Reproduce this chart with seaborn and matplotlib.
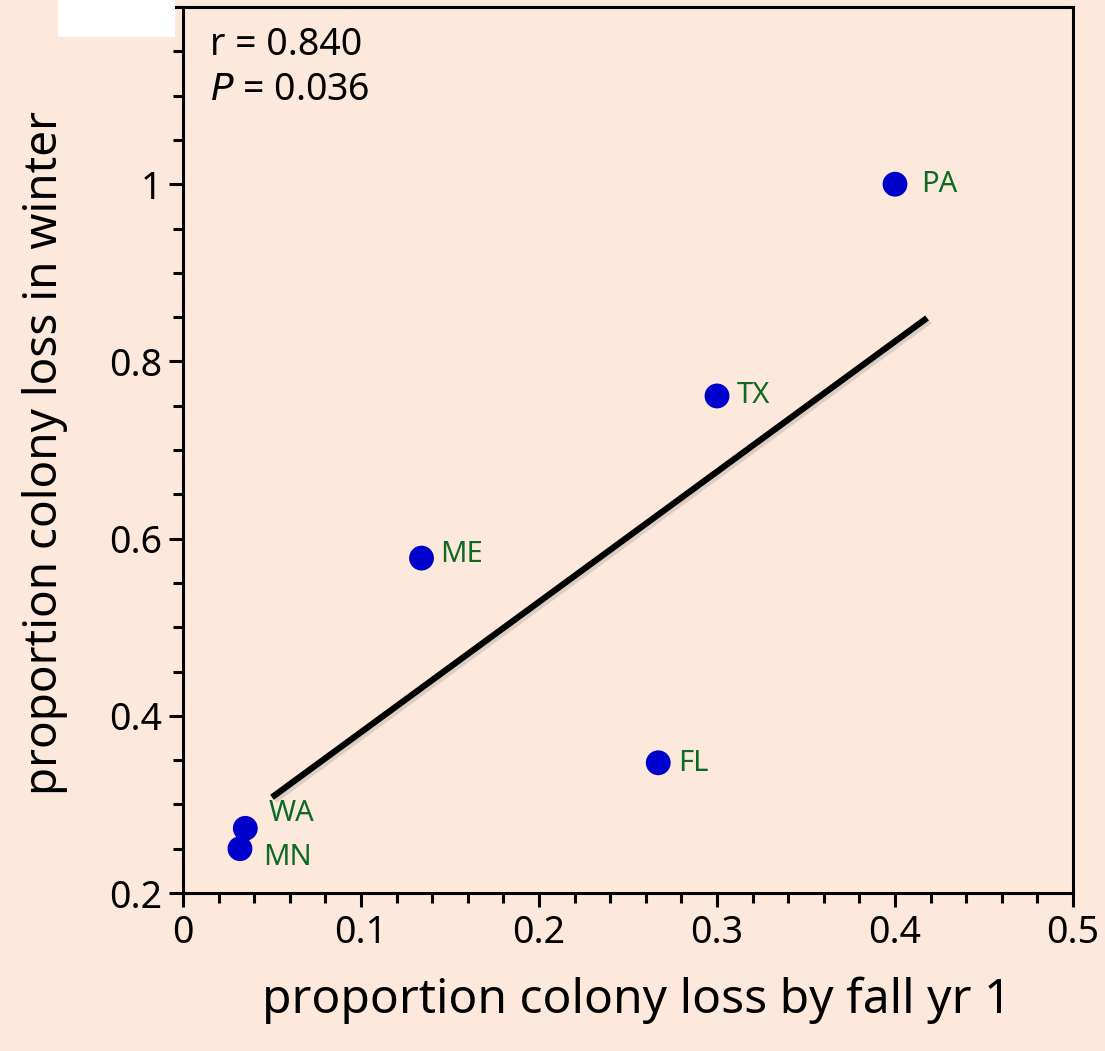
import matplotlib
matplotlib.use("Agg")
import matplotlib.pyplot as plt
import matplotlib.patheffects as pe
from matplotlib.ticker import MultipleLocator, FixedLocator, FixedFormatter
import seaborn as sns
import pandas as pd

# ---- data ----
states = ["PA", "TX", "ME", "FL", "WA", "MN"]
fall_loss = [0.400, 0.300, 0.134, 0.267, 0.035, 0.032]
winter_loss = [1.000, 0.761, 0.578, 0.347, 0.273, 0.250]
label_dx = [26, 20, 19, 20, 23, 23]      # label offsets (pixels)
label_dy = [0, 0, 4, -1, 15, -9]
fit_x = [0.05, 0.418]
fit_y = [0.308, 0.849]
x_ticks = [0, 0.1, 0.2, 0.3, 0.4, 0.5]
x_ticklabels = ["0", "0.1", "0.2", "0.3", "0.4", "0.5"]
y_ticks = [0.2, 0.4, 0.6, 0.8, 1.0]
y_ticklabels = ["0.2", "0.4", "0.6", "0.8", "1"]

df = pd.DataFrame({"state": states, "fall": fall_loss, "winter": winter_loss})

bg = "#FCE9DB"
sns.set_theme(style="ticks")
plt.rcParams["font.family"] = ["Noto Sans", "DejaVu Sans"]

fig = plt.figure(figsize=(11.05, 10.51), dpi=100, facecolor=bg)
ax = fig.add_axes([183/1105, 1-893/1051, (1073-183)/1105, (893-7)/1051])
ax.set_facecolor(bg)

# regression line with soft shadow
ax.plot(fit_x, fit_y, color="black", lw=4.5, solid_capstyle="butt", zorder=2,
        path_effects=[pe.SimpleLineShadow(offset=(2, -2), alpha=0.25, shadow_color="gray"), pe.Normal()])

sns.scatterplot(data=df, x="fall", y="winter", ax=ax, s=320, color="#0000CC",
                edgecolor="none", zorder=3, legend=False)

for st, x, y, dx, dy in zip(states, fall_loss, winter_loss, label_dx, label_dy):
    ax.annotate(st, (x, y), xytext=(dx, dy), textcoords="offset pixels",
                ha="left", va="center", fontsize=21, color="#0E6B22")

ax.set_xlim(0, 0.5)
ax.set_ylim(0.2, 1.2)
ax.xaxis.set_major_locator(FixedLocator(x_ticks))
ax.xaxis.set_major_formatter(FixedFormatter(x_ticklabels))
ax.xaxis.set_minor_locator(MultipleLocator(0.02))
ax.yaxis.set_major_locator(FixedLocator(y_ticks))
ax.yaxis.set_major_formatter(FixedFormatter(y_ticklabels))
ax.yaxis.set_minor_locator(MultipleLocator(0.05))

ax.tick_params(axis="both", which="major", length=10, width=2.2, direction="out",
               labelsize=27, color="black", labelcolor="black", pad=5)
ax.tick_params(axis="both", which="minor", length=7, width=2.2, direction="out", color="black")
for s in ax.spines.values():
    s.set_linewidth(2.2)
    s.set_color("black")

ax.set_xlabel("proportion colony loss by fall yr 1", fontsize=34.5, color="black")
ax.set_ylabel("proportion colony loss in winter", fontsize=33, color="black")
ax.xaxis.set_label_coords(0.51, (893-1000)/886)
ax.xaxis.label.set_va("center")
ax.yaxis.set_label_coords((45-183)/890, 0.497)
ax.yaxis.label.set_va("center")

ax.text(0.03, 0.957, "r = 0.840", transform=ax.transAxes, fontsize=27, va="center", ha="left", color="black")
ax.text(0.03, 0.906, "$\\mathit{P}$ = 0.036", transform=ax.transAxes, fontsize=27, va="center", ha="left", color="black")

# white box at top-left corner
fig.patches.append(plt.Rectangle((58/1105, 1-37/1051), (175-58)/1105, 37/1051,
                                 transform=fig.transFigure, facecolor="white", edgecolor="none", zorder=5))

fig.savefig("out.png", dpi=100, facecolor=bg)
